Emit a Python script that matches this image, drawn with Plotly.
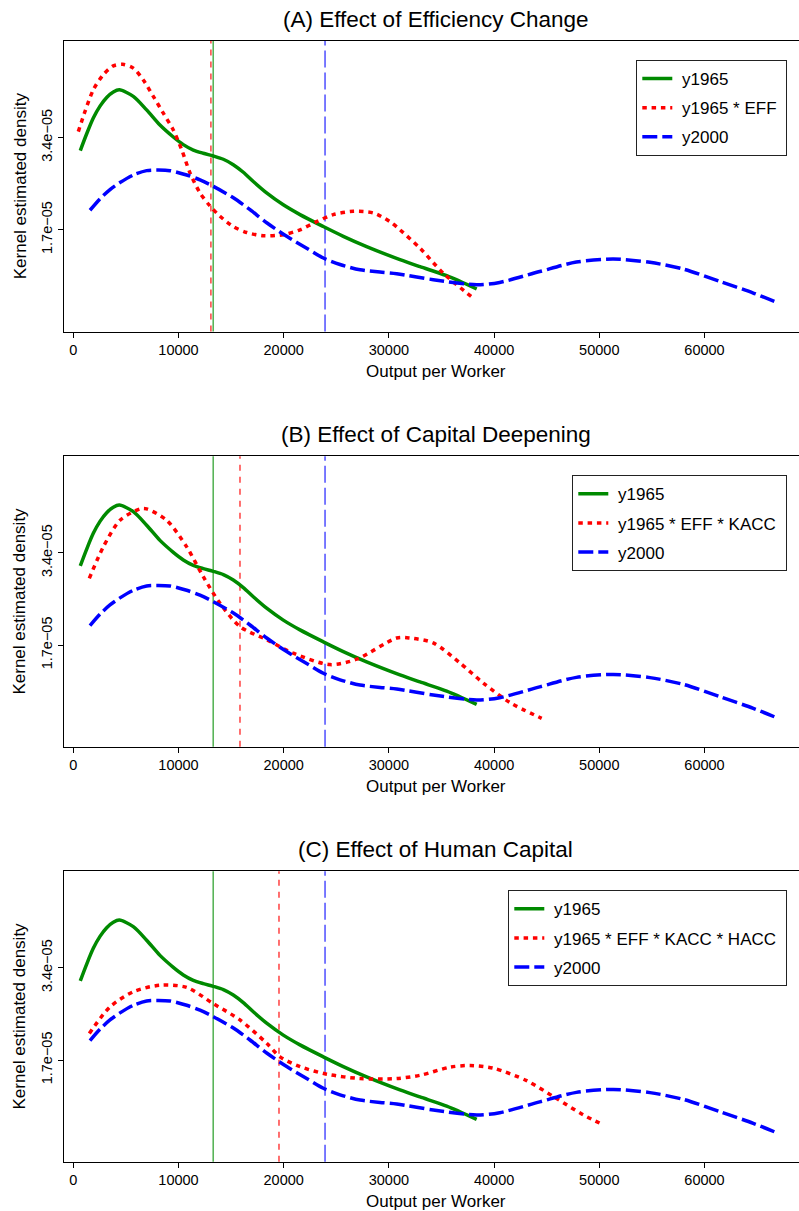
import plotly.graph_objects as go

# ---- data: kernel density estimates of output per worker ----
x_y1965 = [665, 1274, 1901, 2538, 3175, 3802, 4373, 5703, 6970, 8238, 9506, 10457,
           11407, 12358, 13308, 14259, 15209, 16160, 17110, 18378, 19962, 21547,
           23764, 25665, 27883, 31052, 32957, 35494, 38346]
d_y1965 = [3.16e-05, 3.47e-05, 3.76e-05, 3.98e-05, 4.14e-05, 4.24e-05, 4.28e-05,
           4.16e-05, 3.91e-05, 3.63e-05, 3.41e-05, 3.27e-05, 3.17e-05, 3.11e-05,
           3.06e-05, 3.00e-05, 2.90e-05, 2.76e-05, 2.59e-05, 2.38e-05, 2.16e-05,
           1.98e-05, 1.76e-05, 1.58e-05, 1.39e-05, 1.15e-05, 1.02e-05, 0.853e-05,
           0.608e-05]

x_y2000 = [1587, 2538, 3489, 4439, 5707, 6974, 7925, 9192, 10777, 12045, 13313,
           15214, 16799, 18384, 20285, 22186, 23771, 25355, 27256, 29157, 30742,
           34220, 38346, 40532, 44335, 47823, 51331, 54819, 57985, 61473, 64639, 66863]
d_y2000 = [2.06e-05, 2.27e-05, 2.44e-05, 2.57e-05, 2.71e-05, 2.79e-05, 2.80e-05,
           2.79e-05, 2.71e-05, 2.62e-05, 2.50e-05, 2.29e-05, 2.07e-05, 1.83e-05,
           1.58e-05, 1.36e-05, 1.18e-05, 1.06e-05, 0.963e-05, 0.92e-05, 0.89e-05,
           0.78e-05, 0.687e-05, 0.73e-05, 0.93e-05, 1.105e-05, 1.16e-05, 1.10e-05,
           0.976e-05, 0.748e-05, 0.534e-05, 0.361e-05]

x_eff = [475, 1111, 1901, 2852, 3802, 4696, 5703, 6654, 7605, 8555, 9506, 10298,
         11090, 12041, 12991, 13942, 15209, 16477, 18062, 19962, 21547, 23131,
         24716, 26616, 28518, 30103, 31055, 32957, 35171, 38023]
d_eff = [3.51e-05, 3.88e-05, 4.28e-05, 4.56e-05, 4.72e-05, 4.75e-05, 4.68e-05,
         4.46e-05, 4.16e-05, 3.85e-05, 3.54e-05, 3.18e-05, 2.75e-05, 2.38e-05,
         2.14e-05, 1.95e-05, 1.76e-05, 1.65e-05, 1.59e-05, 1.61e-05, 1.70e-05,
         1.85e-05, 1.98e-05, 2.04e-05, 2.01e-05, 1.85e-05, 1.70e-05, 1.36e-05,
         0.90e-05, 0.44e-05]

x_kacc = [1521, 2852, 4439, 6340, 6977, 8878, 10779, 12357, 13945, 15846, 18384,
          20913, 24401, 26939, 30742, 32005, 34220, 36759, 38973, 41512, 44525]
d_kacc = [2.93e-05, 3.51e-05, 4.00e-05, 4.21e-05, 4.21e-05, 4.00e-05, 3.51e-05,
          2.96e-05, 2.47e-05, 2.04e-05, 1.80e-05, 1.55e-05, 1.34e-05, 1.44e-05,
          1.83e-05, 1.83e-05, 1.74e-05, 1.37e-05, 1.00e-05, 0.64e-05, 0.35e-05]

x_hacc = [1521, 3489, 5703, 8241, 10779, 13308, 15846, 18384, 19649, 21551, 24087,
          27253, 30742, 32957, 35808, 37709, 39924, 43099, 45950, 48479, 50447]
d_hacc = [2.19e-05, 2.68e-05, 2.96e-05, 3.08e-05, 3.04e-05, 2.74e-05, 2.44e-05,
          2.01e-05, 1.76e-05, 1.58e-05, 1.44e-05, 1.36e-05, 1.36e-05, 1.42e-05,
          1.57e-05, 1.60e-05, 1.55e-05, 1.32e-05, 0.99e-05, 0.69e-05, 0.50e-05]

# sample means shown as vertical reference lines
mean_y1965 = 13300
mean_y2000 = 23930
mean_cf = [13080, 15846, 19553]

panel_titles = ["(A) Effect of Efficiency Change",
                "(B) Effect of Capital Deepening",
                "(C) Effect of Human Capital"]
cf_names = ["y1965 * EFF", "y1965 * EFF * KACC", "y1965 * EFF * KACC * HACC"]
cf_x = [x_eff, x_kacc, x_hacc]
cf_d = [d_eff, d_kacc, d_hacc]

x_ticks = [0, 10000, 20000, 30000, 40000, 50000, 60000]
y_ticks = [1.7e-05, 3.4e-05]
y_ticklabels = ["1.7e\u221205", "3.4e\u221205"]

# ---- layout geometry (pixels) ----
W, H = 799, 1211
FONT = "Liberation Sans, Arial, Helvetica, sans-serif"
left_px = 64
panel_top = [41, 456.3, 871.3]
panel_h = 290.5
center_px = 436

GREEN, RED, BLUE = "#008a00", "#ff0000", "#0000ff"
RED_DOT = "4.5px,4.8px"
BLUE_DASH = "15px,5px"
PAD = "\u00a0"  # extra breathing room around legend labels


def label(s):
    return PAD + s + PAD


fig = go.Figure()
layout = dict(
    width=W, height=H, margin=dict(l=0, r=0, t=0, b=0),
    paper_bgcolor="white", plot_bgcolor="white",
    font=dict(family=FONT, size=14.5, color="black"),
    annotations=[], shapes=[],
)

for i in range(3):
    sfx = "" if i == 0 else str(i + 1)
    xa, ya = "x" + sfx, "y" + sfx
    leg = "legend" + sfx
    top = panel_top[i]
    bot = top + panel_h
    dom = [1 - bot / H, 1 - top / H]

    fig.add_trace(go.Scatter(
        x=x_y1965, y=d_y1965, name=label("y1965"), mode="lines",
        line=dict(color=GREEN, width=3.5, shape="spline", smoothing=0.8),
        xaxis=xa, yaxis=ya, legend=leg, legendgroup=f"g{i}a"))
    fig.add_trace(go.Scatter(
        x=cf_x[i], y=cf_d[i], name=label(cf_names[i]), mode="lines",
        line=dict(color=RED, width=3.5, dash=RED_DOT, shape="spline", smoothing=0.8),
        xaxis=xa, yaxis=ya, legend=leg, legendgroup=f"g{i}b"))
    fig.add_trace(go.Scatter(
        x=x_y2000, y=d_y2000, name=label("y2000"), mode="lines",
        line=dict(color=BLUE, width=3.5, dash=BLUE_DASH, shape="spline", smoothing=0.8),
        xaxis=xa, yaxis=ya, legend=leg, legendgroup=f"g{i}c"))

    layout["xaxis" + sfx] = dict(
        domain=[left_px / W, 1], anchor=ya, range=[-884, 68985],
        tickmode="array", tickvals=x_ticks, tickformat="d",
        ticks="outside", ticklen=5, tickwidth=1, tickcolor="black",
        showline=True, linecolor="black", linewidth=1, mirror=True,
        showgrid=False, zeroline=False, tickfont=dict(size=14.5),
    )
    layout["yaxis" + sfx] = dict(
        domain=dom, anchor=xa, range=[-0.175e-05, 5.18e-05],
        tickmode="array", tickvals=y_ticks, ticktext=y_ticklabels, tickangle=-90,
        ticks="outside", ticklen=5, tickwidth=1, tickcolor="black",
        showline=True, linecolor="black", linewidth=1,
        showgrid=False, zeroline=False, tickfont=dict(size=14.5),
    )
    layout[leg] = dict(
        x=787.3 / W, xanchor="right", y=1 - (top + 19) / H, yanchor="top",
        bgcolor="white", bordercolor="#222222", borderwidth=1,
        font=dict(size=17), tracegroupgap=4, itemwidth=30,
    )

    # vertical lines at the sample means
    for xm, col, dash in [(mean_y1965, "rgba(0,140,0,0.65)", "solid"),
                          (mean_cf[i], "rgba(255,0,0,0.7)", "6px,6px"),
                          (mean_y2000, "rgba(0,0,255,0.65)", "17px,5px")]:
        layout["shapes"].append(dict(
            type="line", xref=xa, yref=ya + " domain", x0=xm, x1=xm, y0=0, y1=1,
            line=dict(color=col, width=1.6, dash=dash), layer="below"))

    layout["annotations"] += [
        dict(text=panel_titles[i], x=center_px / W, y=1 - (top - 21.5) / H,
             xref="paper", yref="paper", showarrow=False,
             xanchor="center", yanchor="middle", font=dict(size=22.5)),
        dict(text="Output per Worker", x=center_px / W, y=1 - (bot + 39.5) / H,
             xref="paper", yref="paper", showarrow=False,
             xanchor="center", yanchor="middle", font=dict(size=17)),
        dict(text="Kernel estimated density", x=20 / W, y=1 - (top + panel_h / 2) / H,
             xref="paper", yref="paper", showarrow=False, textangle=-90,
             xanchor="center", yanchor="middle", font=dict(size=17)),
    ]

fig.update_layout(**layout)
fig.write_html("out.html")
